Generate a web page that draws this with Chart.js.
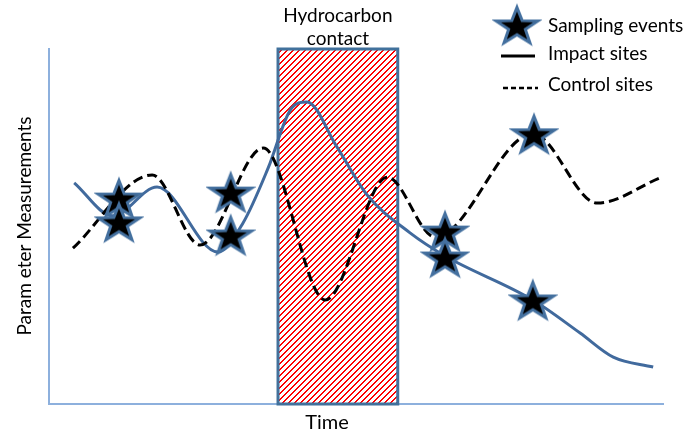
<!DOCTYPE html>
<html>
<head>
<meta charset="utf-8">
<script src="https://cdn.jsdelivr.net/npm/chart.js@4.4.0/dist/chart.umd.min.js"></script>
<style>
    html, body { margin: 0; padding: 0; background: #fff; }
    #wrap { width: 687px; height: 434px; }
</style>
</head>
<body>
<div id="wrap"><canvas id="myChart"></canvas></div>
<script>
// time runs 0..100 along the axis, measurement 0..100 up the axis
const impactTime = [4.1, 10.4, 17.6, 27.5, 31.6, 35.7, 39.3, 42.0, 46.9, 51.8, 58.8, 64.5, 78.8, 86.5, 91.9, 98.4];
const impactValue = [62.3, 53.0, 61.1, 42.8, 51.0, 66.5, 82.8, 85.1, 72.4, 58.9, 48.2, 41.7, 29.3, 20.0, 13.2, 10.4];

const controlTime = [3.9, 16.8, 24.6, 34.9, 45.0, 55.1, 62.9, 78.8, 89.3, 99.5];
const controlValue = [43.9, 64.5, 44.8, 72.1, 29.3, 63.9, 47.0, 76.1, 56.6, 63.7];

const sampleTime = [11.4, 11.4, 29.6, 29.6, 64.5, 64.5, 79.0, 78.8];
const sampleValue = [58.0, 51.3, 59.7, 47.6, 48.7, 41.4, 76.1, 29.3];

const contactSpan = [37.3, 56.8];
const contactLabel = ['Hydrocarbon', 'contact'];
const legendLabels = ['Sampling events', 'Impact sites', 'Control sites'];
const xTitle = 'Time';
const yTitle = 'Param eter Measurements';

const impactColor = '#416a9d';
const axisColor = '#8db0dd';

function makeStar(rx, ry) {
    const c = document.createElement('canvas');
    c.width = Math.ceil(rx * 2 + 6);
    c.height = Math.ceil(ry * 2 + 6);
    const g = c.getContext('2d');
    const cx = c.width / 2, cy = c.height / 2 + ry * 0.1;
    g.beginPath();
    for (let i = 0; i < 10; i++) {
        const a = -Math.PI / 2 + i * Math.PI / 5;
        const r = i % 2 === 0 ? 1 : 0.4;
        const px = cx + Math.cos(a) * rx * r;
        const py = cy + Math.sin(a) * ry * r;
        if (i === 0) g.moveTo(px, py); else g.lineTo(px, py);
    }
    g.closePath();
    g.fillStyle = '#000';
    g.fill();
    g.lineWidth = 3;
    g.lineJoin = 'miter';
    g.strokeStyle = '#44709f';
    g.stroke();
    return c;
}

// red "/" stripes, 2px staircase on white
function makeHatch() {
    const s = 6;
    const c = document.createElement('canvas');
    c.width = s; c.height = s;
    const g = c.getContext('2d');
    g.fillStyle = '#fff';
    g.fillRect(0, 0, s, s);
    g.fillStyle = '#ff0000';
    for (let px = 0; px < s; px++) {
        for (let py = 0; py < s; py++) {
            if ((px + py) % s < 2) g.fillRect(px, py, 1, 1);
        }
    }
    return c;
}

const starImg = makeStar(22, 19.5);

const overlay = {
    id: 'overlay',
    beforeDatasetsDraw(chart) {
        const { ctx, scales: { x, y } } = chart;
        const left = x.getPixelForValue(contactSpan[0]);
        const right = x.getPixelForValue(contactSpan[1]);
        const top = y.getPixelForValue(100);
        const bottom = y.getPixelForValue(0);
        ctx.save();
        ctx.fillStyle = ctx.createPattern(makeHatch(), 'repeat');
        ctx.fillRect(left, top, right - left, bottom - top);
        ctx.lineWidth = 3;
        ctx.strokeStyle = '#41719c';
        ctx.strokeRect(left, top, right - left, bottom - top);
        ctx.restore();
    },
    afterDraw(chart) {
        const { ctx, scales: { x } } = chart;
        ctx.save();
        ctx.fillStyle = '#000';
        ctx.textBaseline = 'middle';

        // box label
        ctx.font = '19px Lato';
        ctx.textAlign = 'center';
        const mid = x.getPixelForValue((contactSpan[0] + contactSpan[1]) / 2);
        ctx.fillText(contactLabel[0], mid, 16);
        ctx.fillText(contactLabel[1], mid, 39);

        // axis titles
        ctx.font = '20px Lato';
        ctx.fillText(xTitle, 327, 423);
        ctx.save();
        ctx.translate(25, 226);
        ctx.rotate(-Math.PI / 2);
        ctx.font = '19px Lato';
        ctx.fillText(yTitle, 0, 0);
        ctx.restore();

        // legend
        ctx.drawImage(starImg, 517 - starImg.width / 2, 25 - starImg.height / 2);
        ctx.strokeStyle = '#000';
        ctx.lineWidth = 3;
        ctx.beginPath();
        ctx.moveTo(501, 56); ctx.lineTo(535, 56);
        ctx.stroke();
        ctx.lineWidth = 2.5;
        ctx.setLineDash([5, 3]);
        ctx.beginPath();
        ctx.moveTo(503, 88); ctx.lineTo(538, 88);
        ctx.stroke();
        ctx.setLineDash([]);
        ctx.textAlign = 'left';
        ctx.font = '19px Lato';
        ctx.fillText(legendLabels[0], 548, 26);
        ctx.fillText(legendLabels[1], 548, 54);
        ctx.fillText(legendLabels[2], 548, 85);
        ctx.restore();
    }
};

const ctx = document.getElementById('myChart').getContext('2d');
new Chart(ctx, {
    type: 'line',
    data: {
        datasets: [
            {
                label: legendLabels[0],
                data: sampleTime.map((t, i) => ({ x: t, y: sampleValue[i] })),
                showLine: false,
                pointStyle: starImg,
                pointRadius: 20,
                order: 0,
            },
            {
                label: legendLabels[2],
                data: controlTime.map((t, i) => ({ x: t, y: controlValue[i] })),
                borderColor: '#000',
                borderWidth: 3,
                borderDash: [10, 5],
                pointRadius: 0,
                cubicInterpolationMode: 'monotone',
                fill: false,
                order: 1,
            },
            {
                label: legendLabels[1],
                data: impactTime.map((t, i) => ({ x: t, y: impactValue[i] })),
                borderColor: impactColor,
                borderWidth: 3,
                pointRadius: 0,
                cubicInterpolationMode: 'monotone',
                fill: false,
                order: 2,
            },
        ],
    },
    options: {
        responsive: true,
        maintainAspectRatio: false,
        animation: false,
        events: [],
        layout: { padding: { left: 49, top: 49, right: 24, bottom: 30 } },
        plugins: {
            legend: { display: false },
            tooltip: { enabled: false },
        },
        scales: {
            x: {
                type: 'linear',
                min: 0,
                max: 100,
                ticks: { display: false },
                grid: { display: false, drawTicks: false },
                border: { display: true, color: axisColor, width: 2 },
            },
            y: {
                min: 0,
                max: 100,
                ticks: { display: false },
                grid: { display: false, drawTicks: false },
                border: { display: true, color: axisColor, width: 2 },
            },
        },
    },
    plugins: [overlay],
});
</script>
</body>
</html>
